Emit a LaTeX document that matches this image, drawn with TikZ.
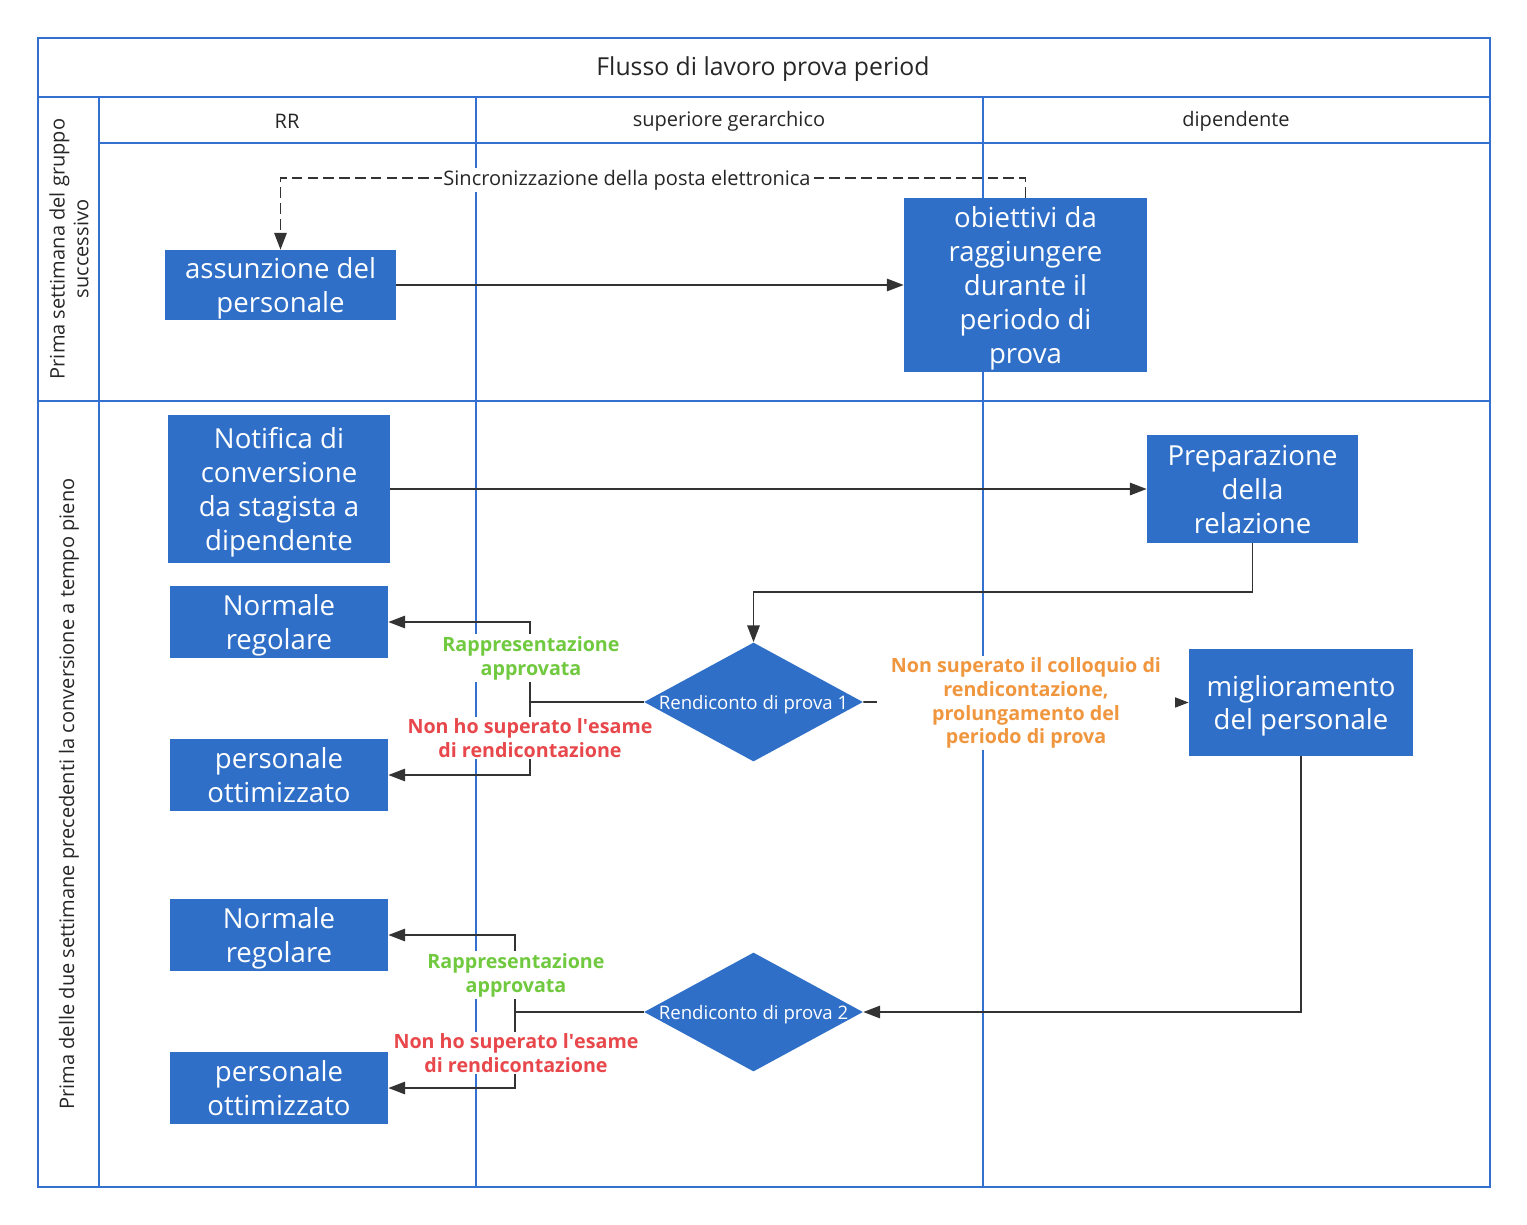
\documentclass[tikz,border=0pt]{standalone}
\usepackage{fontspec}
\setmainfont{Open Sans}
\usetikzlibrary{arrows.meta,shapes.geometric}

\definecolor{boxblue}{RGB}{47,111,200}
\definecolor{laneblue}{RGB}{51,112,208}
\definecolor{linegray}{RGB}{51,51,51}
\definecolor{okgreen}{RGB}{112,201,62}
\definecolor{failred}{RGB}{232,72,75}
\definecolor{extorange}{RGB}{240,150,62}

\tikzset{
  lane/.style={draw=laneblue, line width=1.3pt},
  headtext/.style={font=\fontsize{11.4}{13.6}\selectfont, text=black!85},
  taskbox/.style={fill=boxblue, text=white, align=center, inner sep=0pt, text depth=0pt,
    font=\fontsize{15.7}{19.3}\selectfont},
  checkbox/.style={diamond, fill=boxblue, inner sep=0pt,
    minimum width=4.38cm, minimum height=2.38cm},
  checktext/.style={text=white, text depth=0pt, font=\fontsize{10.6}{12}\selectfont},
  conn/.style={draw=linegray, line width=1.1pt, -{Triangle[length=9.5pt,width=7pt]}},
  edgelbl/.style={fill=white, align=center, inner sep=1pt,
    font=\fontsize{11.2}{13.6}\selectfont\bfseries},
}

\begin{document}
\begin{tikzpicture}[x=0.02cm, y=-0.02cm]
  \useasboundingbox (0,0) rectangle (1527,1224);

  % pool and lanes
  \draw[lane, line width=1.6pt] (38,38) rectangle (1490,1187);
  \draw[lane] (38,97) -- (1490,97);
  \draw[lane] (99,97) -- (99,1187);
  \draw[lane] (99,143) -- (1490,143);
  \draw[lane] (38,401) -- (1490,401);
  \draw[lane] (476,97) -- (476,1187);
  \draw[lane] (983,97) -- (983,1187);

  \node[font=\fontsize{14.1}{16}\selectfont, text=black!85] (title) at (763,69) {Flusso di lavoro prova period};
  \node[headtext] (hrr) at (287,121) {RR};
  \node[headtext] (hsup) at (729,121) {superiore gerarchico};
  \node[headtext] (hdip) at (1236,121) {dipendente};
  \node[headtext, rotate=90, align=center] (row1) at (69,249) {Prima settimana del gruppo\\successivo};
  \node[headtext, rotate=90] (row2) at (69,794) {Prima delle due settimane precedenti la conversione a tempo pieno};

  % tasks
  \node[taskbox, minimum width=4.62cm, minimum height=1.40cm] (assun) at (280.5,285) {assunzione del\\personale};
  \node[taskbox, minimum width=4.86cm, minimum height=3.48cm] (obiet) at (1025.5,285) {obiettivi da\\raggiungere\\durante il\\periodo di\\prova};
  \node[taskbox, minimum width=4.44cm, minimum height=2.98cm] (notif) at (279,489) {Notifica di\\conversione\\da stagista a\\dipendente};
  \node[taskbox, minimum width=4.22cm, minimum height=2.16cm] (prep) at (1252.5,489) {Preparazione\\della\\relazione};
  \node[taskbox, minimum width=4.36cm, minimum height=1.44cm] (norm1) at (279,622) {Normale\\regolare};
  \node[taskbox, minimum width=4.36cm, minimum height=1.44cm] (ottim1) at (279,775) {personale\\ottimizzato};
  \node[taskbox, minimum width=4.48cm, minimum height=2.14cm] (miglio) at (1301,702.5) {miglioramento\\del personale};
  \node[taskbox, minimum width=4.36cm, minimum height=1.44cm] (norm2) at (279,935) {Normale\\regolare};
  \node[taskbox, minimum width=4.36cm, minimum height=1.44cm] (ottim2) at (279,1088) {personale\\ottimizzato};

  \node[checkbox] (check1) at (753.5,702) {};
  \node[checktext] (check1t) at (check1) {Rendiconto di prova 1};
  \node[checkbox] (check2) at (753.5,1012) {};
  \node[checktext] (check2t) at (check2) {Rendiconto di prova 2};

  % connectors
  \draw[conn, dash pattern=on 6pt off 3pt] (obiet.north) -- ++(0,-20) -| (assun.north);
  \draw[conn] (assun.east) -- (obiet.west);
  \draw[conn] (notif.east) -- (prep.west);
  \draw[conn] (prep.south) -- ++(0,49) -| (check1.north);
  \coordinate (split1) at (530,702);
  \draw[conn] (check1.west) -- (split1) |- (norm1.east);
  \draw[conn] (split1) |- (ottim1.east);
  \draw[conn] (check1.east) -- (miglio.west);
  \draw[conn] (miglio.south) |- (check2.east);
  \coordinate (split2) at (515,1012);
  \draw[conn] (check2.west) -- (split2) |- (norm2.east);
  \draw[conn] (split2) |- (ottim2.east);

  % connector labels
  \node[fill=white, inner sep=1pt, font=\fontsize{11.4}{13.6}\selectfont, text=black!85] (sync) at (627,180) {Sincronizzazione della posta elettronica};
  \node[edgelbl, text=okgreen] (ok1) at (531,658) {Rappresentazione\\approvata};
  \node[edgelbl, text=failred] (ko1) at (530,738) {Non ho superato l\textquotesingle esame\\di rendicontazione};
  \node[edgelbl, text=extorange, inner xsep=8pt] (ext1) at (1026,703) {Non superato il colloquio di\\rendicontazione,\\prolungamento del\\periodo di prova};
  \node[edgelbl, text=okgreen] (ok2) at (516,975) {Rappresentazione\\approvata};
  \node[edgelbl, text=failred] (ko2) at (516,1053) {Non ho superato l\textquotesingle esame\\di rendicontazione};
\end{tikzpicture}
\end{document}
